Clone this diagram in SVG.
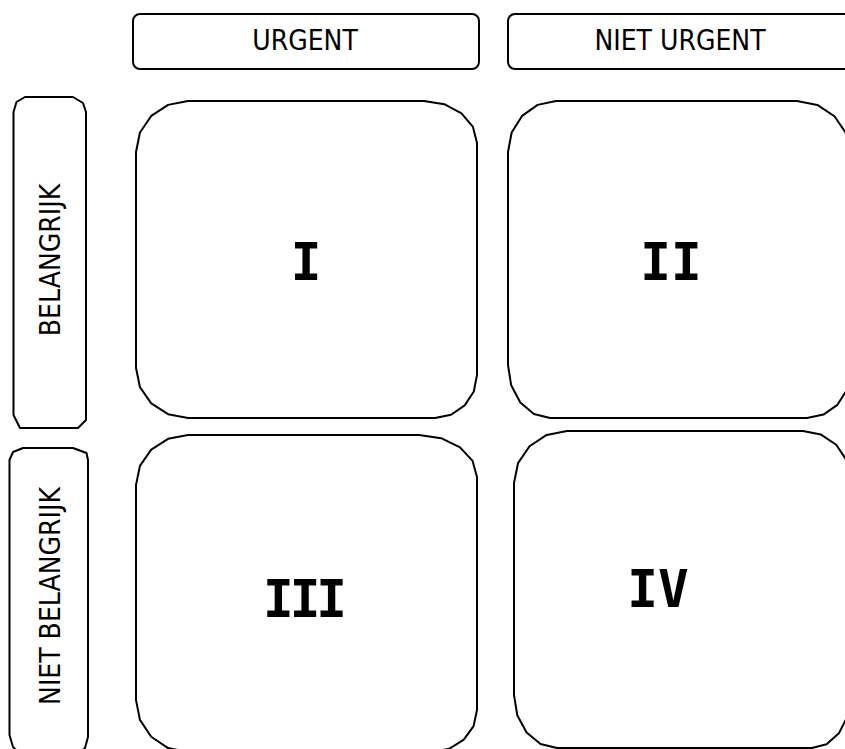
<svg xmlns="http://www.w3.org/2000/svg" width="845" height="749" viewBox="0 0 845 749">
  <style>
    .box { fill: #ffffff; stroke: #000000; stroke-width: 2; stroke-linejoin: round; }
    .lbl { font-family: "DejaVu Sans Condensed", "DejaVu Sans", sans-serif; font-stretch: condensed; font-size: 28px; fill: #000000; text-anchor: middle; }
    .num { font-family: "DejaVu Sans Mono", monospace; font-weight: bold; font-size: 51px; fill: #000000; text-anchor: middle; }
  </style>
  <rect width="845" height="749" fill="#ffffff"/>

  <!-- column headers -->
  <g id="hdr-urgent">
    <rect class="box" x="133" y="14" width="346" height="55" rx="7" ry="7"/>
    <text class="lbl" x="305" y="50">URGENT</text>
  </g>
  <g id="hdr-niet-urgent">
    <rect class="box" x="508" y="14" width="345" height="55" rx="7" ry="7"/>
    <text class="lbl" x="680" y="50">NIET URGENT</text>
  </g>

  <!-- row headers -->
  <g id="hdr-belangrijk">
    <path class="box" d="M13.5,112 L16.5,102 L25,97 L73,97 L83,103 L86,112 L86,420 L78,428 L20,428 L13.5,415 Z"/>
    <text class="lbl" transform="translate(60,260) rotate(-90)" x="0" y="0">BELANGRIJK</text>
  </g>
  <g id="hdr-niet-belangrijk">
    <path class="box" d="M9.5,460 L13,452 L23,448 L73,448 L86.5,453 L88,460 L88,737 L85,748 L80,752 L18,752 L13,747 L9.5,735 Z"/>
    <text class="lbl" transform="translate(60,596) rotate(-90)" x="0" y="0">NIET BELANGRIJK</text>
  </g>

  <!-- quadrants -->
  <g id="q1">
    <path class="box" d="M136,152 L139.95,132.47 L151.24,115.94 L168.08,104.88 L188,101 L424,101 L444.3,104.19 L461.47,113.31 L472.97,126.91 L477,143 L477,375 L473.81,391.47 L464.69,405.4 L451.09,414.73 L435,418 L188,418 L168.08,414.2 L151.24,403.35 L139.95,387.15 L136,368 Z"/>
    <text class="num" x="306" y="280">I</text>
  </g>
  <g id="q2">
    <path class="box" d="M508,152 L511.65,132.47 L522.06,115.94 L537.62,104.88 L556,101 L797,101 L817.3,104.95 L834.47,116.24 L845.97,133.08 L850,153 L850,373 L846.73,390.23 L837.4,404.81 L823.47,414.58 L807,418 L550,418 L533.91,413.97 L520.31,402.47 L511.19,385.3 L508,365 Z"/>
    <text class="num" x="671" y="280">II</text>
  </g>
  <g id="q3">
    <path class="box" d="M136,485 L139.95,465.85 L151.24,449.65 L168.08,438.8 L188,435 L419,435 L441.21,438.19 L460.01,447.31 L472.59,460.91 L477,477 L477,710 L473.58,726.09 L463.81,739.69 L449.23,748.81 L432,752 L188,752 L168.08,748.05 L151.24,736.76 L139.95,719.92 L136,700 Z"/>
    <text class="num" x="305" y="617" textLength="84" lengthAdjust="spacing">III</text>
  </g>
  <g id="q4">
    <path class="box" d="M514,483 L518.03,463.08 L529.53,446.24 L546.7,434.95 L567,431 L803,431 L821,434.57 L836.23,444.77 L846.43,460 L850,478 L850,698 L847.11,717.15 L838.87,733.35 L826.55,744.2 L812,748 L557,748 L540.53,743.97 L526.6,732.47 L517.27,715.3 L514,695 Z"/>
    <text class="num" x="658" y="607">IV</text>
  </g>

  <g id="connectors"/>
</svg>
